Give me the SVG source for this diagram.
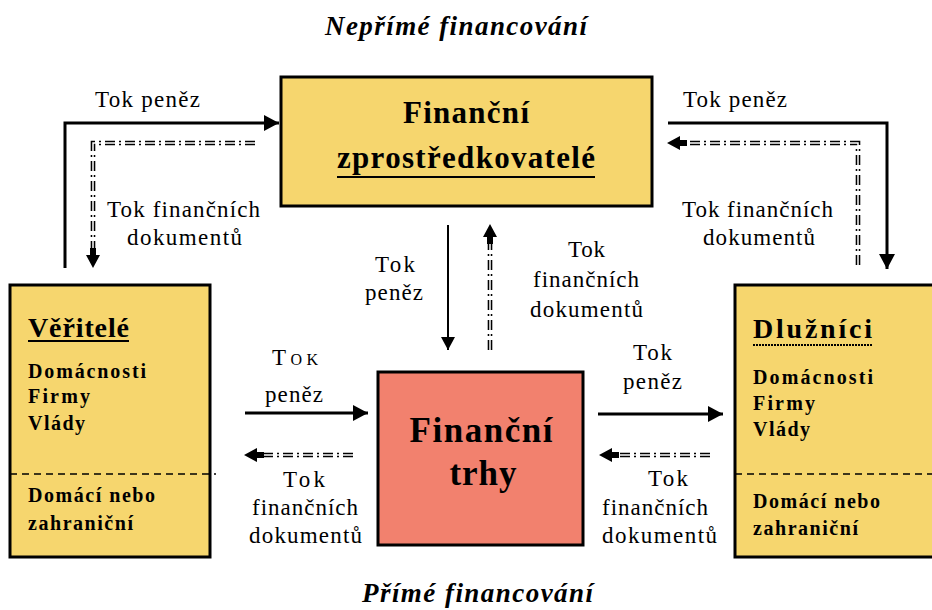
<svg xmlns="http://www.w3.org/2000/svg" width="932" height="610" viewBox="0 0 932 610">
<defs>
<marker id="ah" markerUnits="userSpaceOnUse" markerWidth="18" markerHeight="18" refX="15" refY="8" orient="auto"><path d="M0,0 L15,8 L0,16 z" fill="#000"/></marker>
<marker id="ahs" markerUnits="userSpaceOnUse" markerWidth="16" markerHeight="16" refX="13" refY="7" orient="auto"><path d="M0,0 L13,7 L0,14 z" fill="#000"/></marker>
<marker id="ahd" markerUnits="userSpaceOnUse" markerWidth="22" markerHeight="16" refX="20" refY="7" orient="auto"><path d="M20,7 L7,0 L7,4 L0,4 L0,10 L7,10 L7,14 Z" fill="#000"/></marker>
</defs>
<style>
.box{stroke:#000;stroke-width:3}
.yel{fill:#F6D66E}
.red{fill:#F2816E}
.sep{stroke:#000;stroke-width:1.5;stroke-dasharray:7 5;fill:none}
.t{font-family:"Liberation Serif","Times New Roman",serif;font-size:23px;fill:#000}
.b{font-family:"Liberation Serif","Times New Roman",serif;font-weight:bold;fill:#000}
.bi{font-family:"Liberation Serif","Times New Roman",serif;font-weight:bold;font-style:italic;font-size:27px;fill:#000}
.sol{stroke:#000;stroke-width:3;fill:none}
.dd{stroke:#000;stroke-width:4.6;stroke-dasharray:10 4 2 4;fill:none}
.ddw{stroke:#fff;stroke-width:1.5;fill:none}
.ul{stroke:#000;stroke-width:2}
</style>
<rect width="932" height="610" fill="#fff"/>

<text class="bi" x="325" y="35" textLength="262">Nepřímé financování</text>
<text class="bi" x="362" y="602" textLength="231">Přímé financování</text>

<g id="zprostredkovatele">
<rect class="box yel" x="281" y="77" width="371" height="129"/>
<text class="b" x="466" y="123" font-size="31" text-anchor="middle" textLength="126">Finanční</text>
<text class="b" x="466" y="168" font-size="31" text-anchor="middle" textLength="258">zprostředkovatelé</text>
<line class="ul" x1="337" y1="177" x2="595" y2="177"/>
</g>

<g id="veritele">
<rect class="box yel" x="10" y="285" width="200" height="272"/>
<line class="sep" x1="10" y1="474" x2="216" y2="474"/>
<text class="b" x="28" y="337" font-size="28" textLength="101">Věřitelé</text>
<line class="ul" x1="28" y1="341" x2="129" y2="341"/>
<text class="b" x="28" y="378" font-size="20" textLength="118">Domácnosti</text>
<text class="b" x="28" y="403" font-size="20" textLength="62">Firmy</text>
<text class="b" x="28" y="430" font-size="20" textLength="57">Vlády</text>
<text class="b" x="28" y="502" font-size="20" textLength="127">Domácí nebo</text>
<text class="b" x="28" y="530" font-size="20" textLength="105">zahraniční</text>
</g>

<g id="dluznici">
<rect class="box yel" x="735" y="285" width="210" height="272"/>
<line class="sep" x1="735" y1="474" x2="932" y2="474"/>
<text class="b" x="753" y="338" font-size="28" textLength="119">Dlužníci</text>
<line class="ul" x1="753" y1="345" x2="872" y2="345" stroke-dasharray="2 1"/>
<text class="b" x="753" y="384" font-size="20" textLength="120">Domácnosti</text>
<text class="b" x="753" y="410" font-size="20" textLength="62">Firmy</text>
<text class="b" x="753" y="436" font-size="20" textLength="57">Vlády</text>
<text class="b" x="753" y="508" font-size="20" textLength="127">Domácí nebo</text>
<text class="b" x="753" y="535" font-size="20" textLength="105">zahraniční</text>
</g>

<g id="trhy">
<rect class="box red" x="378" y="372" width="205" height="173"/>
<text class="b" x="481" y="442" font-size="35" text-anchor="middle" textLength="143">Finanční</text>
<text class="b" x="483" y="485" font-size="35" text-anchor="middle" textLength="67">trhy</text>
</g>

<g id="connectors">
<path class="sol" d="M65,268 L65,123 L279,123" marker-end="url(#ah)"/>
<path class="dd" d="M255,143 L93,143 L93,252"/>
<path class="ddw" d="M255,143 L93,143 L93,268" marker-end="url(#ahd)"/>
<path class="sol" d="M668,123 L887,123 L887,269" marker-end="url(#ah)"/>
<path class="dd" d="M858,265 L858,143 L684,143"/>
<path class="ddw" d="M858,265 L858,143 L667,143" marker-end="url(#ahd)"/>
<line x1="448" y1="225" x2="448" y2="350" stroke="#000" stroke-width="2" marker-end="url(#ahs)"/>
<path class="dd" d="M490,350 L490,240"/>
<path class="ddw" d="M490,350 L490,224" marker-end="url(#ahd)"/>
<line class="sol" x1="245" y1="413" x2="368" y2="413" marker-end="url(#ah)"/>
<path class="dd" d="M353,455 L261,455"/>
<path class="ddw" d="M353,455 L244,455" marker-end="url(#ahd)"/>
<line class="sol" x1="598" y1="414" x2="723" y2="414" marker-end="url(#ah)"/>
<path class="dd" d="M710,455 L616,455"/>
<path class="ddw" d="M710,455 L599,455" marker-end="url(#ahd)"/>
</g>

<g id="labels">
<text class="t" x="95" y="107" textLength="105">Tok peněz</text>
<text class="t" x="107" y="217" textLength="153">Tok finančních</text>
<text class="t" x="127" y="245" textLength="115">dokumentů</text>
<text class="t" x="683" y="107" textLength="104">Tok peněz</text>
<text class="t" x="682" y="217" textLength="151">Tok finančních</text>
<text class="t" x="703" y="245" textLength="112">dokumentů</text>
<text class="t" x="375" y="272" textLength="40">Tok</text>
<text class="t" x="365" y="300" textLength="58">peněz</text>
<text class="t" x="568" y="257" textLength="37">Tok</text>
<text class="t" x="533" y="287" textLength="106">finančních</text>
<text class="t" x="530" y="317" textLength="113">dokumentů</text>
<text class="t" x="272" y="365" font-size="25" font-variant="small-caps" textLength="46">Tok</text>
<text class="t" x="265" y="402" font-size="20" textLength="58">peněz</text>
<text class="t" x="283" y="487" textLength="42">Tok</text>
<text class="t" x="252" y="515" textLength="106">finančních</text>
<text class="t" x="249" y="543" textLength="113">dokumentů</text>
<text class="t" x="633" y="360" textLength="39">Tok</text>
<text class="t" x="623" y="389" textLength="59">peněz</text>
<text class="t" x="648" y="486" textLength="40">Tok</text>
<text class="t" x="602" y="515" textLength="106">finančních</text>
<text class="t" x="602" y="543" textLength="115">dokumentů</text>
</g>
</svg>
